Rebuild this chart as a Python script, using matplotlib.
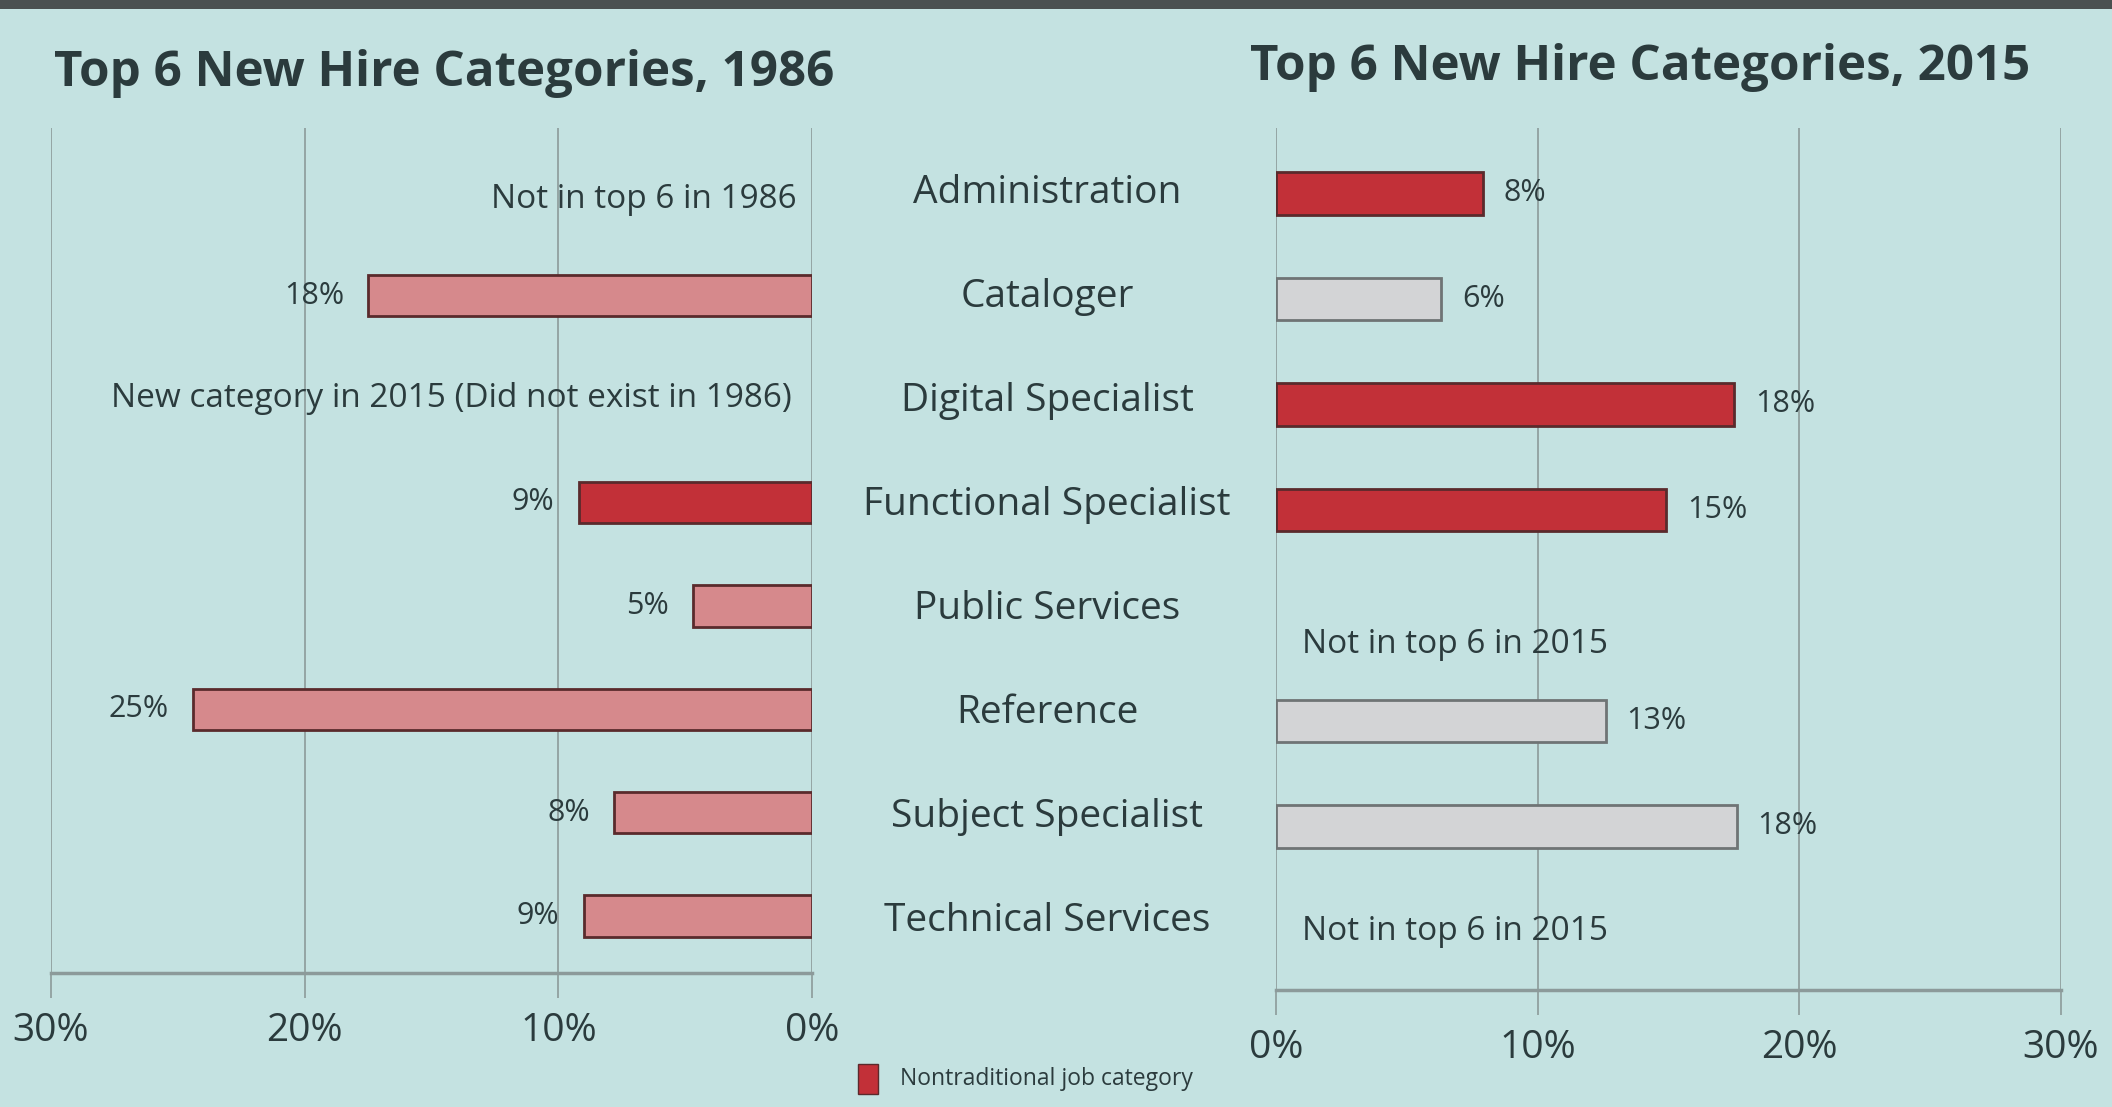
import matplotlib
matplotlib.use('Agg')
from matplotlib import pyplot as plt
from matplotlib.patches import Rectangle
import numpy as np

plt.rcParams['font.family'] = ['Open Sans', 'DejaVu Sans']

categories = ['Administration', 'Cataloger', 'Digital Specialist', 'Functional Specialist',
              'Public Services', 'Reference', 'Subject Specialist', 'Technical Services']
# bar lengths as drawn (None = not shown that year)
hires_1986 = [None, 17.5, None, 9.2, 4.7, 24.4, 7.8, 9.0]
hires_2015 = [7.9, 6.3, 17.5, 14.9, None, 12.6, 17.6, None]
labels_1986 = [None, '18%', None, '9%', '5%', '25%', '8%', '9%']
labels_2015 = ['8%', '6%', '18%', '15%', None, '13%', '18%', None]
nontrad_1986 = [False, False, False, True, False, False, False, False]
nontrad_2015 = [True, False, True, True, False, False, False, False]
ticks = [0, 10, 20, 30]
tick_labels = ['0%', '10%', '20%', '30%']

bg = '#c4e2e1'
txt = '#2b3b3d'
red = '#c23038'
pink = '#d6898c'
grey = '#d3d4d6'

W, H = 2112, 1107
fig = plt.figure(figsize=(W / 100, H / 100), dpi=100, facecolor=bg)

def px_axes(x0, x1, y0, y1):
    return fig.add_axes([x0 / W, 1 - y1 / H, (x1 - x0) / W, (y1 - y0) / H])

axL = px_axes(51, 812, 128, 973)
axR = px_axes(1276, 2061, 128, 990)

def style(ax):
    ax.set_facecolor('none')
    ax.set_xlim(0, 30)
    ax.set_ylim(7.55, -0.62)
    for s in ['top', 'left', 'right']:
        ax.spines[s].set_visible(False)
    ax.spines['bottom'].set_color('#8c9a9a')
    ax.spines['bottom'].set_linewidth(2.5)
    ax.set_xticks(ticks)
    ax.set_xticklabels(tick_labels, fontsize=28, color=txt)
    ax.tick_params(axis='x', length=18, width=1.2, color='#8c9a9a', pad=10)
    ax.set_yticks([])
    ax.grid(axis='x', color='#8c9a9a', linewidth=1.2)
    ax.set_axisbelow(True)

style(axL)
style(axR)
axL.invert_xaxis()

bar_h = 0.4
for i, (v, lab, nt) in enumerate(zip(hires_1986, labels_1986, nontrad_1986)):
    if v is None:
        continue
    axL.barh(i, v, height=bar_h, color=red if nt else pink, edgecolor='#5a2a2c', linewidth=2)
    axL.text(v + 0.95, i, lab, ha='right', va='center', fontsize=22, color=txt)

for i, (v, lab, nt) in enumerate(zip(hires_2015, labels_2015, nontrad_2015)):
    if v is None:
        continue
    axR.barh(i, v, height=bar_h, color=red if nt else grey,
             edgecolor='#5a2a2c' if nt else '#6f7475', linewidth=2)
    axR.text(v + 0.8, i, lab, ha='left', va='center', fontsize=22, color=txt)

# notes for missing categories
axL.text(0.6, 0.07, 'Not in top 6 in 1986', ha='right', va='center', fontsize=24, color=txt)
axL.text(0.8, 2.0, 'New category in 2015 (Did not exist in 1986)', ha='right', va='center',
         fontsize=24, color=txt)
axR.text(1.0, 4.28, 'Not in top 6 in 2015', ha='left', va='center', fontsize=24, color=txt)
axR.text(1.0, 7.0, 'Not in top 6 in 2015', ha='left', va='center', fontsize=24, color=txt)

# category labels in the middle
for i, c in enumerate(categories):
    yy = 128 + (i + 0.62) / 8.17 * 850
    fig.text(1047 / W, 1 - yy / H, c, ha='center', va='center', fontsize=28, color=txt)

fig.text(54 / W, 1 - 74 / H, 'Top 6 New Hire Categories, 1986', ha='left', va='center',
         fontsize=35.5, fontweight='bold', color=txt)
fig.text(1250 / W, 1 - 67 / H, 'Top 6 New Hire Categories, 2015', ha='left', va='center',
         fontsize=35.5, fontweight='bold', color=txt)

# legend
fig.patches.append(Rectangle((858 / W, 1 - 1094 / H), 20 / W, 30 / H, transform=fig.transFigure,
                             facecolor=red, edgecolor='#5a2a2c', linewidth=1))
fig.text(900 / W, 1 - 1079 / H, 'Nontraditional job category', ha='left', va='center',
         fontsize=16.5, color=txt)

# dark frame edge of the photographed screen
fig.patches.append(Rectangle((0, 1 - 9 / H), 1, 9 / H, transform=fig.transFigure,
                             facecolor='#4a5050', edgecolor='none'))

plt.savefig('out.png', dpi=100, facecolor=bg)
